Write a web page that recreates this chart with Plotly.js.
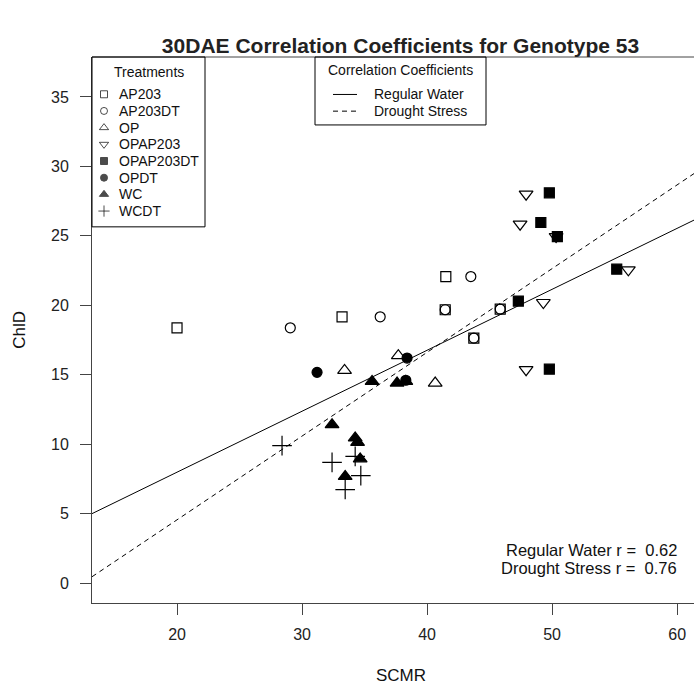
<!DOCTYPE html>
<html>
<head>
<meta charset="utf-8">
<script src="https://cdn.plot.ly/plotly-3.0.1.min.js"></script>
<style>html,body{margin:0;padding:0;background:#fff;}#chart{width:694px;height:690px;}</style>
</head>
<body>
<div id="chart"></div>
<script>
// ---- data ----
const treatments = ["AP203","AP203DT","OP","OPAP203","OPAP203DT","OPDT","WC","WCDT"];
const symbols    = ["square-open","circle-open","triangle-up-open","triangle-down-open","square","circle","triangle-up","cross-thin-open"];
const sizes      = [10,10,12,12,10,10,12,14];

const AP203_x     = [20.0, 33.2, 41.5, 41.45, 45.85, 43.74];
const AP203_y     = [18.38, 19.17, 22.07, 19.68, 19.73, 17.64];
const AP203DT_x   = [29.06, 36.25, 43.5, 41.45, 45.85, 43.74];
const AP203DT_y   = [18.38, 19.17, 22.07, 19.68, 19.73, 17.64];
const OP_x        = [33.4, 37.7, 40.65];
const OP_y        = [15.31, 16.37, 14.4];
const OPAP203_x   = [47.92, 47.44, 50.32, 56.1, 49.3, 47.92];
const OPAP203_y   = [28.0, 25.84, 24.95, 22.55, 20.2, 15.36];
const OPAP203DT_x = [49.78, 49.1, 50.42, 55.17, 47.3, 49.78];
const OPAP203DT_y = [28.1, 25.96, 24.95, 22.6, 20.3, 15.4];
const OPDT_x      = [31.2, 38.4, 38.3];
const OPDT_y      = [15.17, 16.2, 14.6];
const WC_x        = [35.6, 37.6, 38.3, 32.4, 34.25, 34.44, 34.65, 33.45];
const WC_y        = [14.52, 14.4, 14.52, 11.4, 10.45, 10.13, 8.94, 7.68];
const WCDT_x      = [28.4, 32.4, 34.25, 34.7, 33.45];
const WCDT_y      = [9.89, 8.69, 9.12, 7.73, 6.73];

const seriesX = [AP203_x, AP203DT_x, OP_x, OPAP203_x, OPAP203DT_x, OPDT_x, WC_x, WCDT_x];
const seriesY = [AP203_y, AP203DT_y, OP_y, OPAP203_y, OPAP203DT_y, OPDT_y, WC_y, WCDT_y];

// regression lines
const lineNames  = ["Regular Water", "Drought Stress"];
const slopes     = [0.439, 0.603];
const intercepts = [-0.80, -7.51];
const rValues    = ["0.62", "0.76"];

const xTicks = [20, 30, 40, 50, 60];
const yTicks = [0, 5, 10, 15, 20, 25, 30, 35];
const xRange = [13.2, 61.35];
const yRange = [-1.44, 37.88];

// ---- styling / geometry ----
const FONT = "Liberation Sans, Arial, sans-serif";
const DASH = "5px,4px";
const lineDash = ["solid", DASH];
const W = 694, H = 690, L = 92, T = 57, B = 603.5;
const pw = W - L, ph = B - T;
const px = v => (v - L) / pw;
const py = v => (B - v) / ph;
const CX = 400.5;              // centre of the full (cropped) plot region

// treatments key box (pixels)
const K1 = {x0: 92, x1: 205, y0: 57, y1: 227, titleY: 71.7, row0: 94.3, step: 16.7, mx: 104, tx: 117};
// correlation key box (pixels)
const K2 = {x0: 315, x1: 486, y0: 57, y1: 125, titleY: 70.5, row0: 94.5, step: 16.7, lx0: 333, lx1: 357, tx: 372};

// ---- traces ----
const traces = [];
for (let i = 0; i < treatments.length; i++) {
  traces.push({
    type: "scatter", mode: "markers", name: treatments[i],
    x: seriesX[i], y: seriesY[i], showlegend: false,
    marker: {symbol: symbols[i], size: sizes[i], color: "#000",
             line: {color: "#000", width: 1.2}},
    hoverinfo: "x+y+name"
  });
}
for (let j = 0; j < lineNames.length; j++) {
  traces.push({
    type: "scatter", mode: "lines", name: lineNames[j],
    x: xRange, y: xRange.map(v => intercepts[j] + slopes[j] * v),
    line: {color: "#000", width: 1, dash: lineDash[j]},
    showlegend: false, hoverinfo: "skip"
  });
}
// key symbols for the treatments box, on an overlaid helper axis in pixel units
traces.push({
  type: "scatter", mode: "markers", xaxis: "x2", yaxis: "y2",
  x: treatments.map(() => K1.mx),
  y: treatments.map((t, i) => K1.row0 + i * K1.step),
  marker: {symbol: symbols, size: symbols.map(s => s.indexOf("triangle") >= 0 ? 8 : (s.indexOf("cross") >= 0 ? 8 : 7)),
           color: "#000", line: {color: "#000", width: 1}},
  showlegend: false, hoverinfo: "skip", cliponaxis: false
});

function ann(text, x, y, xa, size, extra) {
  return Object.assign({text: text, xref: "paper", yref: "paper", x: px(x), y: py(y),
    xanchor: xa, yanchor: "middle", showarrow: false,
    font: {family: FONT, size: size, color: "#111"}}, extra || {});
}

const annotations = [
  ann("Treatments", (K1.x0 + K1.x1) / 2, K1.titleY, "center", 14),
  ann("Correlation Coefficients", (K2.x0 + K2.x1) / 2, K2.titleY, "center", 14),
  ann("SCMR", CX, 676, "center", 17),
  ann("ChlD", 20, 330, "center", 17, {textangle: -90}),
];
treatments.forEach((t, i) => annotations.push(ann(t, K1.tx, K1.row0 + i * K1.step, "left", 14)));
lineNames.forEach((n, j) => {
  annotations.push(ann(n, K2.tx, K2.row0 + j * K2.step, "left", 14));
  annotations.push(ann(n + " r =  " + rValues[j], 679, 550 + j * 18.5, "right", 16.5));
});

const shapes = [
  {type: "line", xref: "paper", yref: "paper", x0: 0, x1: 1, y0: 1, y1: 1, line: {color: "#444", width: 1}},
  {type: "rect", xref: "paper", yref: "paper", x0: px(K1.x0), x1: px(K1.x1), y0: py(K1.y0), y1: py(K1.y1),
   line: {color: "#000", width: 1}},
  {type: "rect", xref: "paper", yref: "paper", x0: px(K2.x0), x1: px(K2.x1), y0: py(K2.y0), y1: py(K2.y1),
   line: {color: "#000", width: 1}}
];
lineNames.forEach((n, j) => shapes.push({
  type: "line", xref: "paper", yref: "paper", x0: px(K2.lx0), x1: px(K2.lx1),
  y0: py(K2.row0 + j * K2.step), y1: py(K2.row0 + j * K2.step),
  line: {color: "#000", width: 1, dash: lineDash[j]}
}));

const layout = {
  width: W, height: H,
  margin: {l: L, r: 0, t: T, b: H - B},
  paper_bgcolor: "#fff", plot_bgcolor: "#fff",
  font: {family: FONT, size: 16, color: "#222"},
  title: {text: "<b>30DAE Correlation Coefficients for Genotype 53</b>",
          font: {family: FONT, size: 21, color: "#222"},
          x: CX / W, xanchor: "center", y: 1 - 46 / H, yanchor: "middle"},
  xaxis: {range: xRange, tickvals: xTicks, ticks: "outside", ticklen: 11, tickcolor: "#444",
          showgrid: false, zeroline: false, showline: true, linecolor: "#444", linewidth: 1,
          ticklabelstandoff: 6, tickfont: {size: 16, color: "#222"}, fixedrange: true},
  yaxis: {range: yRange, tickvals: yTicks, ticks: "outside", ticklen: 11, tickcolor: "#444",
          showgrid: false, zeroline: false, showline: true, linecolor: "#444", linewidth: 1,
          ticklabelstandoff: 8, tickfont: {size: 16, color: "#222"}, fixedrange: true},
  xaxis2: {overlaying: "x", range: [L, W], visible: false, anchor: "y2", fixedrange: true},
  yaxis2: {overlaying: "y", range: [B, T], visible: false, anchor: "x2", fixedrange: true},
  showlegend: false,
  shapes: shapes,
  annotations: annotations
};

Plotly.newPlot("chart", traces, layout, {displayModeBar: false, staticPlot: true});
</script>
</body>
</html>
